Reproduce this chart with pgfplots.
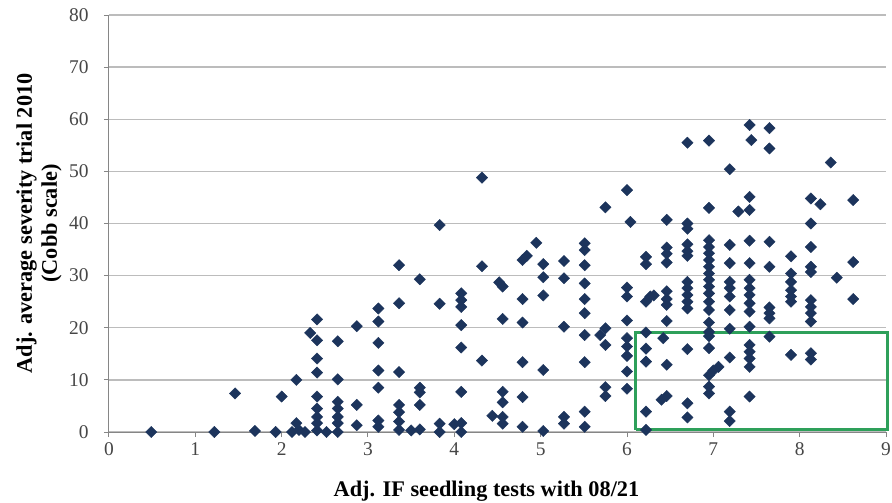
\documentclass[border=0pt]{standalone}
\usepackage{fontspec}
\setmainfont{Liberation Serif}
\usepackage{pgfplots}
\pgfplotsset{compat=1.18}

\definecolor{markblue}{RGB}{28,52,92}
\definecolor{boxgreen}{RGB}{46,160,90}
\definecolor{gridgray}{RGB}{188,188,188}
\definecolor{axisgray}{RGB}{134,134,134}
\definecolor{ticktext}{RGB}{70,70,70}

\begin{document}
\begin{tikzpicture}
\begin{axis}[
  scale only axis, width=777bp, height=417bp,
  xmin=0, xmax=9, ymin=0, ymax=80,
  xtick={0,1,...,9}, ytick={0,10,...,80},
  axis x line*=bottom, axis y line*=left,
  axis line style={axisgray, line width=1bp, -},
  ymajorgrids, grid style={gridgray, line width=1.3bp},
  tick style={axisgray, line width=1bp},
  tick align=outside, major tick length=5bp,
  /pgf/number format/assume math mode=true,
  ticklabel style={font=\fontsize{19.5}{19.5}\selectfont, text=ticktext},
  yticklabel style={xshift=-12bp},
  xticklabel style={yshift=-2bp},
  xlabel={Adj. IF seedling tests with 08/21},
  ylabel={Adj. average severity trial 2010\\(Cobb scale)},
  label style={font=\bfseries\fontsize{22.4}{22.5}\selectfont},
  xlabel style={at={(axis description cs:0.5,0)}, anchor=center, yshift=-59bp, xshift=-11bp},
  ylabel style={at={(axis description cs:-0.090,0.5)}, anchor=center, align=center,
                font=\bfseries\fontsize{22.4}{25}\selectfont},
  clip=false,
]
\coordinate (origin) at (rel axis cs:0,0);

% highlighted region: high seedling score, low field severity
\addplot[boxgreen, line width=3bp, line join=miter, mark=none]
  coordinates {(6.1,0.4) (9.02,0.4) (9.02,19) (6.1,19) (6.1,0.4)};

\addplot[only marks, mark=square*, mark size=4bp,
         mark options={rotate=45, fill=markblue, draw=markblue}]
coordinates {
(0.49,0) (1.22,0) (1.46,7.4) (1.69,0.2) (1.93,0) (2.0,6.8)
(2.12,0) (2.17,10) (2.17,1.7) (2.2,0.4) (2.27,0) (2.33,19)
(2.41,21.6) (2.41,17.6) (2.41,14.1) (2.41,11.4) (2.41,6.8) (2.41,4.5) (2.41,2.9) (2.41,1.7) (2.41,0.3)
(2.52,0)
(2.65,17.4) (2.65,10.1) (2.65,5.8) (2.65,4.5) (2.65,2.9) (2.65,1.7) (2.65,0)
(2.87,20.3) (2.87,5.2) (2.87,1.3)
(3.12,23.7) (3.12,21.2) (3.12,17.1) (3.12,11.8) (3.12,8.5) (3.12,2.2) (3.12,1.0)
(3.36,32) (3.36,24.7) (3.36,11.5) (3.36,5.2) (3.36,3.8) (3.36,2.0) (3.36,0.4)
(3.5,0.3)
(3.6,29.3) (3.6,8.5) (3.6,7.6) (3.6,5.2) (3.6,0.5)
(3.83,39.7) (3.83,24.6) (3.83,1.6) (3.83,0)
(4.0,1.5)
(4.08,26.6) (4.08,25.3) (4.08,24.0) (4.08,20.5) (4.08,16.2) (4.08,7.7) (4.08,1.7) (4.08,0)
(4.32,48.8) (4.32,31.8) (4.32,13.7)
(4.44,3.1)
(4.52,28.7) (4.56,27.9)
(4.56,21.7) (4.56,7.7) (4.56,5.7) (4.56,2.9) (4.56,1.6)
(4.79,33) (4.84,33.8)
(4.79,25.5) (4.79,21.0) (4.79,13.4) (4.79,6.7) (4.79,1.0)
(4.95,36.3)
(5.03,32.2) (5.03,29.7) (5.03,26.2) (5.03,11.9) (5.03,0.2)
(5.27,32.8) (5.27,29.5) (5.27,20.2) (5.27,2.9) (5.27,1.6)
(5.51,36.2) (5.51,34.9) (5.51,32.0) (5.51,28.5) (5.51,25.5) (5.51,22.8) (5.51,18.6) (5.51,13.4) (5.51,3.9) (5.51,1.0)
(5.69,18.6) (5.75,19.9)
(5.75,43.1) (5.75,16.7) (5.75,8.6) (5.75,6.9)
(6.0,46.4) (6.04,40.3) (6.0,27.7) (6.0,26) (6.0,21.4) (6.0,18) (6.0,16.4) (6.0,14.6) (6.0,11.6) (6.0,8.3)
(6.22,33.6) (6.22,32.2) (6.22,25) (6.22,19.1) (6.22,16) (6.22,13.5) (6.22,3.9) (6.22,0.4)
(6.27,26) (6.31,26.2)
(6.46,40.7) (6.46,35.4) (6.46,34.2) (6.46,32.5) (6.46,27) (6.46,25.5) (6.46,24.4) (6.46,21.3) (6.46,12.9) (6.46,6.9)
(6.42,18) (6.4,6.2)
(6.7,55.5) (6.7,40) (6.7,39) (6.7,36) (6.7,34.7) (6.7,33.8) (6.7,28.8) (6.7,27.6) (6.7,26.3) (6.7,25) (6.7,23.7) (6.7,15.9) (6.7,5.5) (6.7,2.8)
(6.95,55.9) (6.95,43) (6.95,36.8) (6.95,35.5) (6.95,34.3) (6.95,33) (6.95,31.7) (6.95,30.4) (6.95,29.2) (6.95,27.9)
(6.95,26.6) (6.95,25) (6.95,23.4) (6.95,21) (6.95,19.2) (6.95,18.4) (6.95,16.1) (6.95,10.9) (6.95,8.7) (6.95,7.4)
(7.0,11.8) (7.06,12.5)
(7.19,50.4) (7.19,35.9) (7.19,32.4) (7.19,28.8) (7.19,27.6) (7.19,26) (7.19,23.4) (7.19,19.8) (7.19,14.3) (7.19,3.9) (7.19,2.1)
(7.29,42.3)
(7.42,58.9) (7.44,56) (7.42,45.1) (7.42,42.6) (7.42,36.7) (7.42,32.4) (7.42,29.2) (7.42,27.6) (7.42,26.3) (7.42,24.7)
(7.42,23.1) (7.42,20.2) (7.42,16.7) (7.42,15.4) (7.42,14.1) (7.42,12.5) (7.42,6.8)
(7.65,58.3) (7.65,54.4) (7.65,36.5) (7.65,31.7) (7.65,23.9) (7.65,22.8) (7.65,21.8) (7.65,18.3)
(7.9,33.7) (7.9,30.4) (7.9,28.8) (7.9,27.2) (7.9,26) (7.9,25) (7.9,14.8)
(8.13,44.8) (8.13,40) (8.13,35.5) (8.13,31.7) (8.13,30.7) (8.13,25.3) (8.13,24) (8.13,22.8) (8.13,21.2) (8.13,15.1) (8.13,13.9)
(8.24,43.7) (8.36,51.7) (8.43,29.6)
(8.62,44.5) (8.62,32.6) (8.62,25.5)
};
\end{axis}
\pgfresetboundingbox
\path (origin) ++(-109bp,-71bp) rectangle ++(892bp,503bp);
\end{tikzpicture}
\end{document}
